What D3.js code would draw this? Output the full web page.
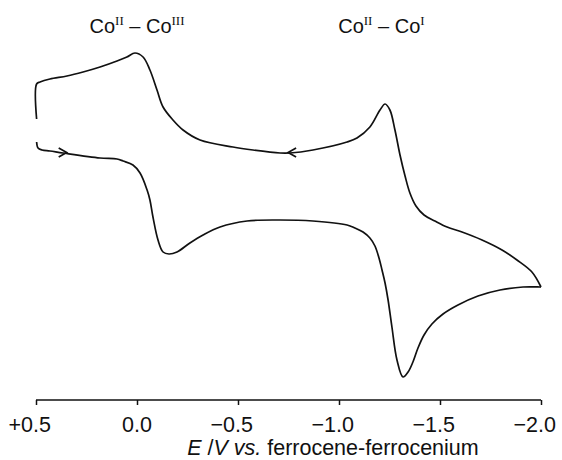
<!DOCTYPE html>
<html>
<head>
<meta charset="utf-8">
<script src="https://cdn.jsdelivr.net/npm/d3@7"></script>
<style>
  body { margin: 0; background: #fff; }
  svg { display: block; }
</style>
</head>
<body>
<svg id="chart"></svg>
<script>
var width = 562;
var height = 460;

// forward scan, +0.5 V -> -2.0 V (E in V, current in arbitrary units)
var fwdE = [0.497, 0.490, 0.470, 0.431, 0.366, 0.183, 0.099, 0.069, 0.020, -0.015, -0.050, -0.064, -0.079, -0.104, -0.129, -0.158, -0.198, -0.262, -0.327, -0.411, -0.545, -0.708, -0.871, -1.040, -1.079, -1.119, -1.153, -1.178, -1.198, -1.213, -1.228, -1.243, -1.262, -1.287, -1.317, -1.342, -1.366, -1.391, -1.421, -1.460, -1.515, -1.589, -1.688, -1.797, -1.911, -1.995, -2.000];
var fwdI = [10.8, 10.2, 10.0, 9.9, 9.7, 9.2, 9.1, 8.9, 8.5, 7.7, 6.0, 5.0, 3.3, 1.0, -0.2, -0.4, -0.2, 0.7, 1.5, 2.3, 2.9, 3.0, 2.9, 2.5, 2.2, 1.8, 1.2, 0.4, -0.8, -2.0, -3.3, -5.0, -7.7, -11.0, -12.7, -12.2, -11.2, -9.8, -8.5, -7.4, -6.4, -5.5, -4.6, -4.0, -3.7, -3.7, -3.7];

// reverse scan, -2.0 V -> +0.5 V
var revE = [-2.000, -1.955, -1.881, -1.807, -1.708, -1.609, -1.535, -1.475, -1.421, -1.381, -1.351, -1.327, -1.302, -1.277, -1.252, -1.228, -1.203, -1.153, -1.089, -1.040, -0.871, -0.757, -0.708, -0.574, -0.475, -0.312, -0.228, -0.178, -0.129, -0.099, -0.064, -0.030, 0.010, 0.050, 0.099, 0.183, 0.267, 0.347, 0.431, 0.480, 0.497, 0.497];
var revI = [-3.7, -2.2, -1.0, 0.0, 1.0, 1.8, 2.3, 2.9, 3.5, 4.4, 5.7, 7.4, 9.5, 12.0, 14.0, 14.6, 14.0, 12.3, 11.2, 10.8, 10.0, 9.7, 9.7, 10.0, 10.3, 11.0, 12.0, 13.0, 14.3, 16.0, 18.0, 19.3, 19.7, 19.3, 18.9, 18.3, 17.8, 17.4, 17.1, 16.8, 16.6, 13.1];

// scan direction arrows
var arrowE = [0.348, -0.748];
var arrowI = [9.75, 9.75];
var arrowDir = [1, -1];

var tickValues = [0.5, 0.0, -0.5, -1.0, -1.5, -2.0];
var tickSigns = ["+", "", "\u2212", "\u2212", "\u2212", "\u2212"];

// redox couple labels, placed over their waves
var coupleE = [0.0, -1.21];
var coupleLabels = [["II", "III"], ["II", "I"]];

var svg = d3.select("#chart").attr("width", width).attr("height", height);

var x = d3.scaleLinear().domain([0.5, -2.0]).range([36, 541]);
var y = d3.scaleLinear().domain([-15, 25]).range([400, 0]);

var line = d3.line()
	.x(function(d) { return x(d[0]); })
	.y(function(d) { return y(d[1]); })
	.curve(d3.curveCatmullRom.alpha(0.5));

var fwd = fwdE.map(function(e, i) { return [e, fwdI[i]]; });
var rev = revE.map(function(e, i) { return [e, revI[i]]; });

svg.selectAll(".scan").data([fwd, rev]).enter().append("path")
	.attr("class", "scan")
	.attr("d", line)
	.attr("fill", "none")
	.attr("stroke", "#111")
	.attr("stroke-width", 1.7)
	.attr("stroke-linejoin", "round");

svg.selectAll(".arrow").data(arrowE).enter().append("path")
	.attr("class", "arrow")
	.attr("d", function(e, i) {
		var tx = x(e), ty = y(arrowI[i]), dx = -8 * arrowDir[i];
		return "M" + (tx + dx) + "," + (ty - 4.5) + "L" + tx + "," + ty + "L" + (tx + dx) + "," + (ty + 4.5);
	})
	.attr("fill", "none")
	.attr("stroke", "#111")
	.attr("stroke-width", 1.7);

// x axis
var axisY = 400;
var axis = d3.axisBottom(x).tickValues(tickValues).tickSize(5).tickFormat("");
var ax = svg.append("g").attr("transform", "translate(0," + axisY + ")").call(axis);
ax.select(".domain").attr("d", "M" + x(0.5) + ",0H" + x(-2.0)).attr("stroke", "#111").attr("stroke-width", 1.5);
ax.selectAll(".tick line").attr("stroke", "#111").attr("stroke-width", 1.5);

var labelFont = "'Liberation Sans', Arial, Helvetica, sans-serif";
tickValues.forEach(function(v, i) {
	var num = ax.append("text")
		.attr("x", x(v))
		.attr("y", 32)
		.attr("text-anchor", "middle")
		.attr("font-family", labelFont)
		.attr("font-size", 21.5)
		.attr("fill", "#111")
		.text(Math.abs(v).toFixed(1));
	if (tickSigns[i]) {
		var w = num.node().getComputedTextLength();
		ax.append("text")
			.attr("x", x(v) - w / 2)
			.attr("y", 32)
			.attr("text-anchor", "end")
			.attr("font-family", labelFont)
			.attr("font-size", 21.5)
			.attr("fill", "#111")
			.text(tickSigns[i]);
	}
});

var title = svg.append("text")
	.attr("x", x(-0.97))
	.attr("y", 455)
	.attr("text-anchor", "middle")
	.attr("font-family", labelFont)
	.attr("font-size", 21.5)
	.attr("fill", "#111");
title.append("tspan").attr("font-style", "italic").text("E");
title.append("tspan").text(" /");
title.append("tspan").attr("font-style", "italic").text("V vs.");
title.append("tspan").text(" ferrocene-ferrocenium");

// redox couple labels
coupleE.forEach(function(e, i) {
	var t = svg.append("text")
		.attr("x", x(e))
		.attr("y", 33)
		.attr("text-anchor", "middle")
		.attr("font-family", labelFont)
		.attr("font-size", 20)
		.attr("fill", "#111");
	t.append("tspan").text("Co");
	t.append("tspan").attr("dy", -8).attr("font-size", 13).attr("font-family", "'Liberation Serif', 'DejaVu Serif', serif").text(coupleLabels[i][0]);
	t.append("tspan").attr("dy", 8).text(" \u2013 Co");
	t.append("tspan").attr("dy", -8).attr("font-size", 13).attr("font-family", "'Liberation Serif', 'DejaVu Serif', serif").text(coupleLabels[i][1]);
});
</script>
</body>
</html>
